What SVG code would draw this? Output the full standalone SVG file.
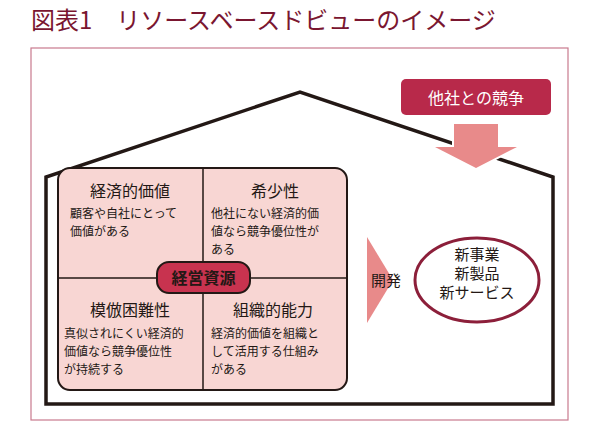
<svg xmlns="http://www.w3.org/2000/svg" width="600" height="429" viewBox="0 0 600 429">
<style>
text{font-family:"Noto Sans CJK JP","Noto Sans",sans-serif;fill:#231815}
.h{font-size:16px;text-anchor:middle}
.b{font-size:12px}
</style>
<rect width="600" height="429" fill="#fff"/>
<text x="31" y="29" style="font-size:24px;fill:#7a1630">図表1　リソースベースドビューのイメージ</text>
<rect x="31" y="48" width="537" height="372" fill="none" stroke="#c97a8e" stroke-width="1.2"/>
<g id="house"><path d="M46,404 V177 L300,92 L553,177 V404 Z" fill="none" stroke="#231815" stroke-width="3.5" stroke-linejoin="miter"/></g>
<g id="competition">
<rect x="401" y="79" width="150" height="36" rx="5" fill="#b8294a"/>
<text x="476" y="104" class="h" style="fill:#fff">他社との競争</text>
<path d="M454,124 H498 V147 H517 L476,168 L435,147 H454 Z" fill="#e88a8a" stroke="#fff" stroke-width="4" paint-order="stroke"/>
</g>
<g id="resources">
<rect x="58" y="168" width="289" height="222" rx="12" fill="#f8d6d3" stroke="#231815" stroke-width="2"/>
<line x1="203" y1="168" x2="203" y2="390" stroke="#231815" stroke-width="1.5"/>
<line x1="58" y1="278" x2="347" y2="278" stroke="#231815" stroke-width="1.5"/>
<text x="130" y="197" class="h">経済的価値</text>
<text x="70" y="218" class="b"><tspan x="70">顧客や自社にとって</tspan><tspan x="70" dy="18">価値がある</tspan></text>
<text x="275" y="197" class="h">希少性</text>
<text x="211" y="218" class="b"><tspan x="211">他社にない経済的価</tspan><tspan x="211" dy="18">値なら競争優位性が</tspan><tspan x="211" dy="18">ある</tspan></text>
<text x="130" y="316" class="h">模倣困難性</text>
<text x="64" y="338" class="b"><tspan x="64">真似されにくい経済的</tspan><tspan x="64" dy="18">価値なら競争優位性</tspan><tspan x="64" dy="18">が持続する</tspan></text>
<text x="273" y="316" class="h">組織的能力</text>
<text x="211" y="338" class="b"><tspan x="211">経済的価値を組織と</tspan><tspan x="211" dy="18">して活用する仕組み</tspan><tspan x="211" dy="18">がある</tspan></text>
<rect x="157" y="262" width="93" height="31" rx="12" fill="#c8334f" stroke="#231815" stroke-width="2"/>
<text x="203.5" y="284" class="h" style="font-weight:bold">経営資源</text>
</g>
<g id="connectors">
<path d="M367,237 L393,280 L367,323 Z" fill="#e88a8a"/>
<text x="386" y="286" class="h" style="font-size:15px">開発</text>
</g>
<g id="result">
<ellipse cx="477" cy="280" rx="62" ry="42" fill="#fff" stroke="#8c1f3a" stroke-width="3"/>
<text x="477" y="260" class="h" style="font-size:15px"><tspan x="477">新事業</tspan><tspan x="477" dy="19">新製品</tspan><tspan x="477" dy="19">新サービス</tspan></text>
</g>
</svg>
